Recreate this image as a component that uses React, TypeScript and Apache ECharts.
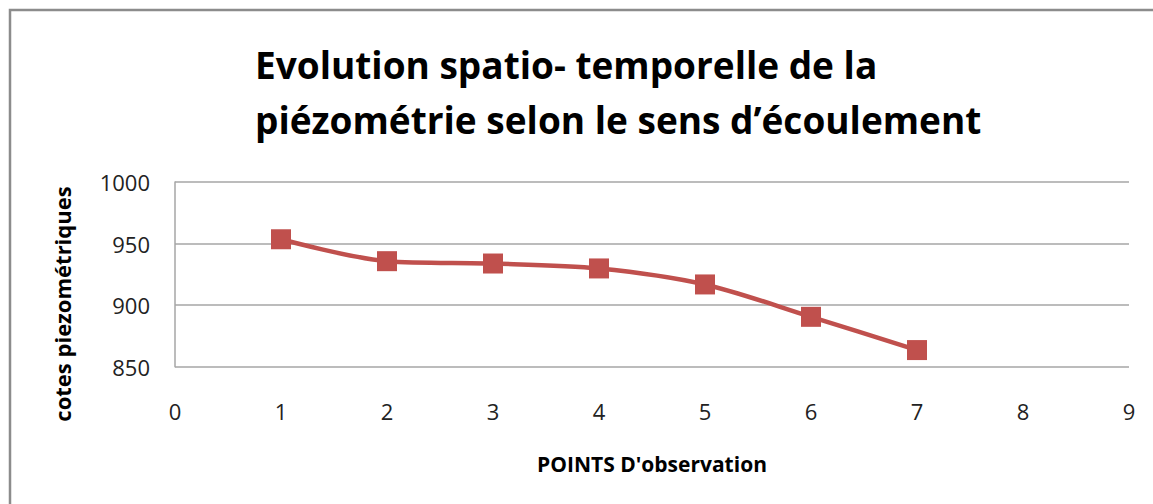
import React, { useEffect, useRef } from "react";
import * as echarts from "echarts";

const titleLine1 = "Evolution spatio- temporelle de la";
const titleLine2 = "piézométrie selon le sens d’écoulement";
const xName = "POINTS D'observation";
const yName = "cotes piezométriques";
const points = [1, 2, 3, 4, 5, 6, 7];
const cotes = [953.5, 935.7, 933.8, 929.8, 916.8, 890.5, 863.5];

const FONT = "'Open Sans', 'Noto Sans', sans-serif";

export default function App() {
  const ref = useRef<HTMLDivElement>(null);
  useEffect(() => {
    if (!ref.current) return;
    const chart = echarts.init(ref.current, undefined, { renderer: "svg" });
    const titleStyle = {
      fontFamily: FONT,
      fontWeight: "bold",
      fontSize: 37,
      color: "#000000",
    };
    chart.setOption({
      animation: false,
      backgroundColor: "#ffffff",
      title: [
        { text: titleLine1, left: 250, top: 41, textStyle: titleStyle },
        { text: titleLine2, left: 250, top: 96, textStyle: titleStyle },
      ],
      grid: { left: 175, right: 24, top: 182, bottom: 137.3, containLabel: false },
      xAxis: {
        type: "value",
        min: 0,
        max: 9,
        interval: 1,
        name: xName,
        nameLocation: "middle",
        nameGap: 87,
        nameTextStyle: { fontFamily: FONT, fontWeight: "bold", fontSize: 21, color: "#000" },
        axisLine: { show: false },
        axisTick: { show: false },
        splitLine: { show: false },
        axisLabel: { margin: 33, fontFamily: FONT, fontSize: 22, color: "#222" },
      },
      yAxis: {
        type: "value",
        min: 850,
        max: 1000,
        interval: 50,
        axisLine: { show: true, lineStyle: { color: "#a6a6a6", width: 1.5 } },
        axisTick: { show: false },
        splitLine: { show: true, lineStyle: { color: "#a6a6a6", width: 1.5 } },
        axisLabel: {
          margin: 25,
          fontFamily: FONT,
          fontSize: 22,
          color: "#222",
          formatter: (v: number) => String(v),
        },
      },
      graphic: [
        {
          type: "polyline",
          shape: { points: [[10, 504], [10, 10], [1153, 10]] },
          style: { stroke: "#8c8c8c", lineWidth: 2.5, fill: "none" },
        },
        {
          type: "text",
          x: 62,
          y: 304,
          rotation: Math.PI / 2,
          style: {
            text: yName,
            fontFamily: FONT,
            fontWeight: "bold",
            fontSize: 22,
            fill: "#000",
            textAlign: "center",
            textVerticalAlign: "middle",
          },
        },
      ],
      series: [
        {
          type: "line",
          data: points.map((p, i) => [p, cotes[i]]),
          smooth: 0.3,
          symbol: "rect",
          symbolSize: 20,
          itemStyle: { color: "#C0504D" },
          lineStyle: { color: "#C0504D", width: 4.5 },
        },
      ],
    });
    return () => chart.dispose();
  }, []);
  return (
    <div
      ref={ref}
      style={{ position: "fixed", left: 0, top: 0, width: 1153, height: 504, background: "#fff" }}
    />
  );
}
